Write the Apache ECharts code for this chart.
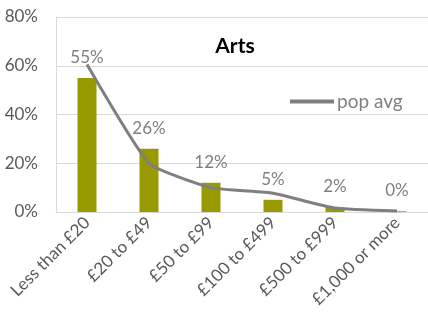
<!DOCTYPE html>
<html>
<head>
<meta charset="utf-8">
<script src="https://cdn.jsdelivr.net/npm/echarts@6/dist/echarts.min.js"></script>
<style>
  html, body { margin: 0; padding: 0; background: #fff; }
  #chart { width: 428px; height: 313px; }
</style>
</head>
<body>
<div id="chart"></div>
<script>
// spend bands
const categories = ['Less than £20', '£20 to £49', '£50 to £99', '£100 to £499', '£500 to £999', '£1,000 or more'];
// Arts share (%)
const artsValues = [55, 26, 12, 5, 2, 0.3];
const artsLabels = ['55%', '26%', '12%', '5%', '2%', '0%'];
// population average (%)
const popAvg = [60.5, 20, 10, 7.7, 1.6, 0.4];

const font = 'Lato, "Open Sans", sans-serif';
const chart = echarts.init(document.getElementById('chart'));

chart.setOption({
  animation: false,
  textStyle: { fontFamily: font },
  title: {
    text: 'Arts',
    left: 230, top: 31,
    textAlign: 'center',
    textStyle: { fontSize: 21, fontWeight: 'bold', color: '#000', fontFamily: font }
  },
  legend: {
    data: ['pop avg'],
    left: 285, top: 87,
    itemWidth: 44, itemHeight: 4,
    itemGap: 4,
    icon: 'rect',
    textStyle: { fontSize: 19, color: '#7f7f7f', fontFamily: font, padding: [0, 0, 0, -2] }
  },
  grid: { left: 56, right: 0, top: 17, bottom: 101, containLabel: false },
  xAxis: {
    type: 'category',
    data: categories,
    axisLine: { lineStyle: { color: '#d9d9d9', width: 1 } },
    axisTick: { show: false },
    axisLabel: {
      rotate: 45, interval: 0, fontSize: 17, color: '#595959',
      margin: 8, fontFamily: font
    }
  },
  yAxis: {
    type: 'value',
    min: 0, max: 80, interval: 20,
    axisLine: { show: true, lineStyle: { color: '#d9d9d9' } },
    splitLine: { lineStyle: { color: '#d9d9d9' } },
    axisLabel: { formatter: '{value}%', fontSize: 17, color: '#595959', margin: 18, fontFamily: font }
  },
  series: [
    {
      name: 'Arts',
      type: 'bar',
      data: artsValues,
      barWidth: 19,
      itemStyle: { color: '#999900' },
      label: {
        show: true, position: 'top', distance: 12,
        fontSize: 17, color: '#7f7f7f', fontFamily: font,
        formatter: p => artsLabels[p.dataIndex]
      }
    },
    {
      name: 'pop avg',
      type: 'line',
      data: popAvg,
      smooth: 0.15,
      symbol: 'none',
      lineStyle: { color: '#7f7f7f', width: 3 },
      itemStyle: { color: '#7f7f7f' }
    }
  ]
});
</script>
</body>
</html>
